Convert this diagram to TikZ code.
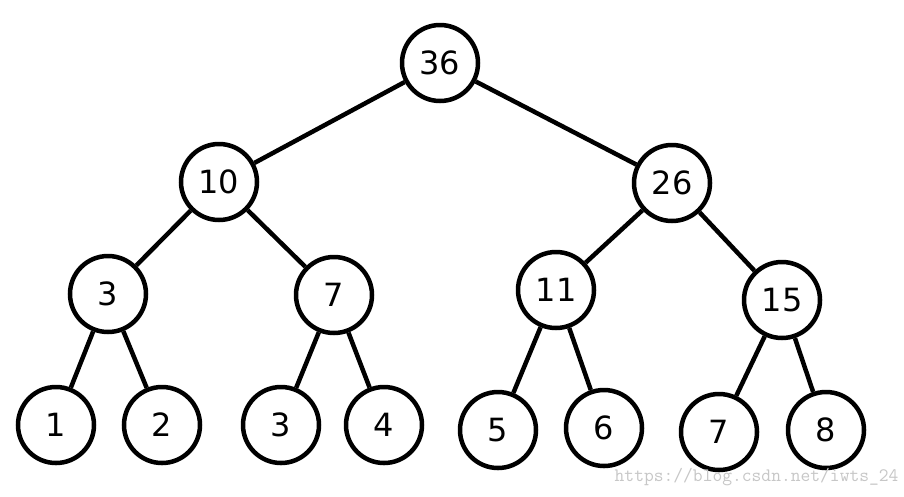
\documentclass[tikz,border=0pt]{standalone}
\usepackage{fontspec}
\setmainfont{DejaVu Sans}
\begin{document}
\begin{tikzpicture}[x=1pt,y=-1pt,
  nd/.style={circle,draw=black,line width=4.5pt,minimum size=76pt,inner sep=0pt,font=\fontsize{32}{32}\selectfont},
  ed/.style={line width=4.5pt}]
\useasboundingbox[fill=white] (0,0) rectangle (904,496);
\node[nd] (r) at (440,63) {36};
\node[nd] (a) at (219,182) {10};
\node[nd] (b) at (672,183) {26};
\node[nd] (c) at (108,294) {3};
\node[nd] (d) at (334,295) {7};
\node[nd] (e) at (556,290) {11};
\node[nd] (f) at (782,300) {15};
\node[nd] (l1) at (56,425) {1};
\node[nd] (l2) at (162,425) {2};
\node[nd] (l3) at (281,425) {3};
\node[nd] (l4) at (384,425) {4};
\node[nd] (l5) at (498,430) {5};
\node[nd] (l6) at (604,428) {6};
\node[nd] (l7) at (719,432) {7};
\node[nd] (l8) at (826,430) {8};
\draw[ed] (r)--(a); \draw[ed] (r)--(b);
\draw[ed] (a)--(c); \draw[ed] (a)--(d);
\draw[ed] (b)--(e); \draw[ed] (b)--(f);
\draw[ed] (c)--(l1); \draw[ed] (c)--(l2);
\draw[ed] (d)--(l3); \draw[ed] (d)--(l4);
\draw[ed] (e)--(l5); \draw[ed] (e)--(l6);
\draw[ed] (f)--(l7); \draw[ed] (f)--(l8);
\node[text=black!22,font=\fontsize{19}{19}\selectfont\ttfamily,anchor=east] (w) at (902,477) {https://blog.csdn.net/iwts\_24};
\end{tikzpicture}
\end{document}
